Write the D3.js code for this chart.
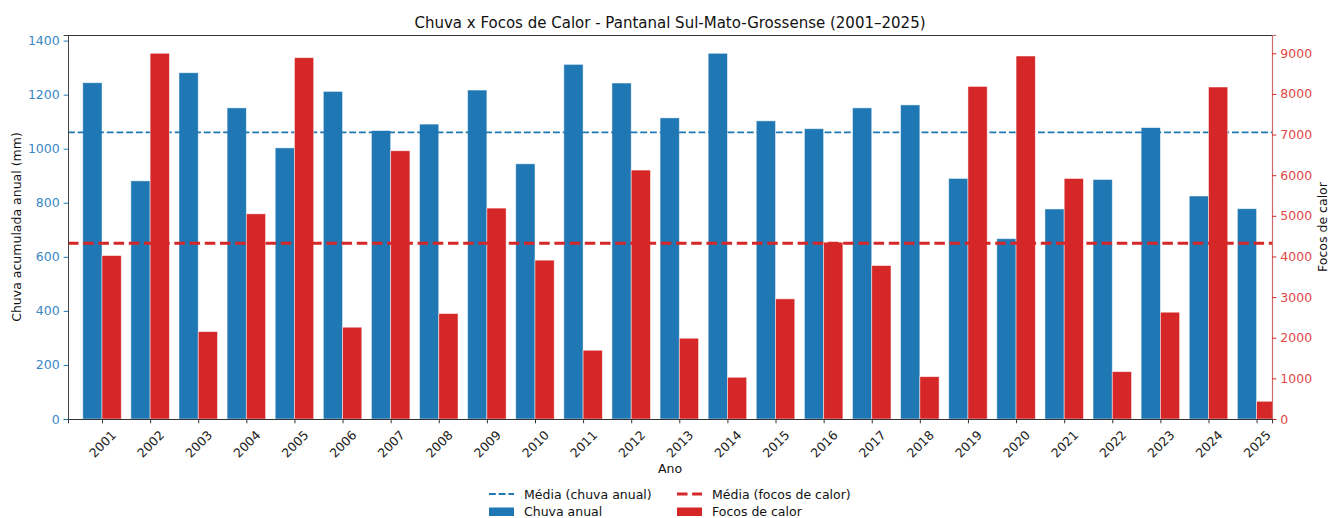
<!DOCTYPE html>
<html lang="pt">
<head>
<meta charset="UTF-8">
<title>Chuva x Focos de Calor</title>
<script src="https://cdnjs.cloudflare.com/ajax/libs/d3/7.8.5/d3.min.js"></script>
<style>
  body { margin: 0; background: #fff; }
  svg, svg text { font-family: "DejaVu Sans", sans-serif; }
</style>
</head>
<body>
<div id="chart"></div>
<script>
    var anos = ["2001","2002","2003","2004","2005","2006","2007","2008","2009","2010",
                "2011","2012","2013","2014","2015","2016","2017","2018","2019","2020",
                "2021","2022","2023","2024","2025"];
    var chuva = [1244, 881, 1281, 1151, 1003, 1212, 1067, 1091, 1217, 944,
                 1312, 1243, 1114, 1353, 1103, 1074, 1151, 1162, 890, 667,
                 777, 886, 1078, 825, 778];
    var focos = [4022, 9000, 2150, 5049, 8892, 2259, 6601, 2594, 5190, 3909,
                 1692, 6126, 1988, 1027, 2956, 4352, 3776, 1042, 8185, 8933,
                 5919, 1165, 2628, 8170, 436];
    var ticksChuva = [0, 200, 400, 600, 800, 1000, 1200, 1400];
    var ticksFocos = [0, 1000, 2000, 3000, 4000, 5000, 6000, 7000, 8000, 9000];

    var azul = "#1f77b4", vermelho = "#d62728";
    var width = 1338, height = 518;
    var margin = {top: 35, right: 66, bottom: 99, left: 68};
    var w = width - margin.left - margin.right,
        h = height - margin.top - margin.bottom;
    var fs = "12.5px";

    var svg = d3.select("#chart").append("svg")
        .attr("width", width).attr("height", height);

    var g = svg.append("g")
        .attr("transform", "translate(" + margin.left + "," + margin.top + ")");

    // x is the year index, bars sit left/right of each tick
    var x = d3.scaleLinear().domain([-0.707, 24.32]).range([0, w]);
    var yL = d3.scaleLinear().domain([0, d3.max(chuva) * 1.05]).range([h, 0]);
    var yR = d3.scaleLinear().domain([0, d3.max(focos) * 1.05]).range([h, 0]);

    g.append("clipPath").attr("id", "clip")
        .append("rect").attr("width", w).attr("height", h);

    var plot = g.append("g").attr("clip-path", "url(#clip)");

    plot.selectAll(".chuva").data(chuva).enter().append("rect")
        .attr("class", "chuva")
        .attr("x", function(d, i) { return x(i - 0.4); })
        .attr("width", x(0.4) - x(0))
        .attr("y", function(d) { return yL(d); })
        .attr("height", function(d) { return h - yL(d); })
        .attr("fill", azul)
        .attr("stroke", "#fff").attr("stroke-opacity", 0.6).attr("stroke-width", 0.8);

    plot.append("line")
        .attr("x1", 0).attr("x2", w)
        .attr("y1", yL(d3.mean(chuva))).attr("y2", yL(d3.mean(chuva)))
        .attr("stroke", azul).attr("stroke-width", 1.8)
        .attr("stroke-dasharray", "6.8,2.9");

    plot.selectAll(".focos").data(focos).enter().append("rect")
        .attr("class", "focos")
        .attr("x", function(d, i) { return x(i); })
        .attr("width", x(0.4) - x(0))
        .attr("y", function(d) { return yR(d); })
        .attr("height", function(d) { return h - yR(d); })
        .attr("fill", vermelho)
        .attr("stroke", "#fff").attr("stroke-opacity", 0.6).attr("stroke-width", 0.8);

    plot.append("line")
        .attr("x1", 0).attr("x2", w)
        .attr("y1", yR(d3.mean(focos))).attr("y2", yR(d3.mean(focos)))
        .attr("stroke", vermelho).attr("stroke-width", 3)
        .attr("stroke-dasharray", "10.5,4.7");

    // axes
    var axL = g.append("g")
        .call(d3.axisLeft(yL).tickValues(ticksChuva).tickFormat(d3.format("d"))
            .tickSize(4.3).tickPadding(4));
    axL.attr("font-family", null).attr("font-size", null);
    axL.select(".domain").attr("stroke", "#444");
    axL.selectAll(".tick line").attr("stroke", azul);
    axL.selectAll(".tick text").attr("fill", "#3a88c4").style("font-size", fs);

    var axR = g.append("g").attr("transform", "translate(" + w + ",0)")
        .call(d3.axisRight(yR).tickValues(ticksFocos).tickFormat(d3.format("d"))
            .tickSize(4.3).tickPadding(4));
    axR.attr("font-family", null).attr("font-size", null);
    axR.select(".domain").attr("stroke", "#d06a6a").attr("stroke-width", 1.2);
    axR.selectAll(".tick line").attr("stroke", vermelho);
    axR.selectAll(".tick text").attr("fill", "#e04848").style("font-size", fs);

    var axB = g.append("g").attr("transform", "translate(0," + h + ")")
        .call(d3.axisBottom(x).tickValues(d3.range(anos.length))
            .tickFormat(function(i) { return anos[i]; }).tickSize(4.3));
    axB.attr("font-family", null).attr("font-size", null);
    axB.select(".domain").attr("stroke", "#333");
    axB.selectAll(".tick line").attr("stroke", "#333");
    axB.selectAll(".tick text")
        .attr("y", 0).attr("dy", null)
        .attr("transform", "translate(0,25) rotate(-45)")
        .attr("text-anchor", "middle")
        .attr("dominant-baseline", "central")
        .attr("fill", "#222").style("font-size", fs);

    g.append("line").attr("x1", 0).attr("x2", w).attr("y1", 0.5).attr("y2", 0.5)
        .attr("stroke", "#333");

    // labels
    svg.append("text")
        .attr("x", margin.left + w / 2).attr("y", 28)
        .attr("text-anchor", "middle").style("font-size", "15px").attr("fill", "#111")
        .text("Chuva x Focos de Calor - Pantanal Sul-Mato-Grossense (2001\u20132025)");

    svg.append("text")
        .attr("transform", "translate(21," + (margin.top + h / 2) + ") rotate(-90)")
        .attr("text-anchor", "middle").style("font-size", fs).attr("fill", "#111")
        .text("Chuva acumulada anual (mm)");

    svg.append("text")
        .attr("transform", "translate(1327," + (margin.top + h / 2) + ") rotate(-90)")
        .attr("text-anchor", "middle").style("font-size", fs).attr("fill", "#111")
        .text("Focos de calor");

    svg.append("text")
        .attr("x", margin.left + w / 2).attr("y", 473)
        .attr("text-anchor", "middle").style("font-size", fs).attr("fill", "#111")
        .text("Ano");

    // legend
    var legenda = [
        {label: "M\u00e9dia (chuva anual)", tipo: "linha", cor: azul, lw: 1.8, dash: "6.8,2.9", col: 0, row: 0},
        {label: "Chuva anual", tipo: "barra", cor: azul, col: 0, row: 1},
        {label: "M\u00e9dia (focos de calor)", tipo: "linha", cor: vermelho, lw: 3, dash: "10.5,4.7", col: 1, row: 0},
        {label: "Focos de calor", tipo: "barra", cor: vermelho, col: 1, row: 1}
    ];
    var colX = [489, 677], rowY = [494, 511.5];
    var leg = svg.append("g");
    legenda.forEach(function(d) {
        var lx = colX[d.col], ly = rowY[d.row];
        if (d.tipo === "linha") {
            leg.append("line").attr("x1", lx).attr("x2", lx + 25)
                .attr("y1", ly).attr("y2", ly)
                .attr("stroke", d.cor).attr("stroke-width", d.lw)
                .attr("stroke-dasharray", d.dash);
        } else {
            leg.append("rect").attr("x", lx).attr("y", ly - 4)
                .attr("width", 25).attr("height", 8.5).attr("fill", d.cor);
        }
        leg.append("text").attr("x", lx + 35).attr("y", ly)
            .attr("dominant-baseline", "central")
            .style("font-size", fs).attr("fill", "#111")
            .text(d.label);
    });
</script>
</body>
</html>
